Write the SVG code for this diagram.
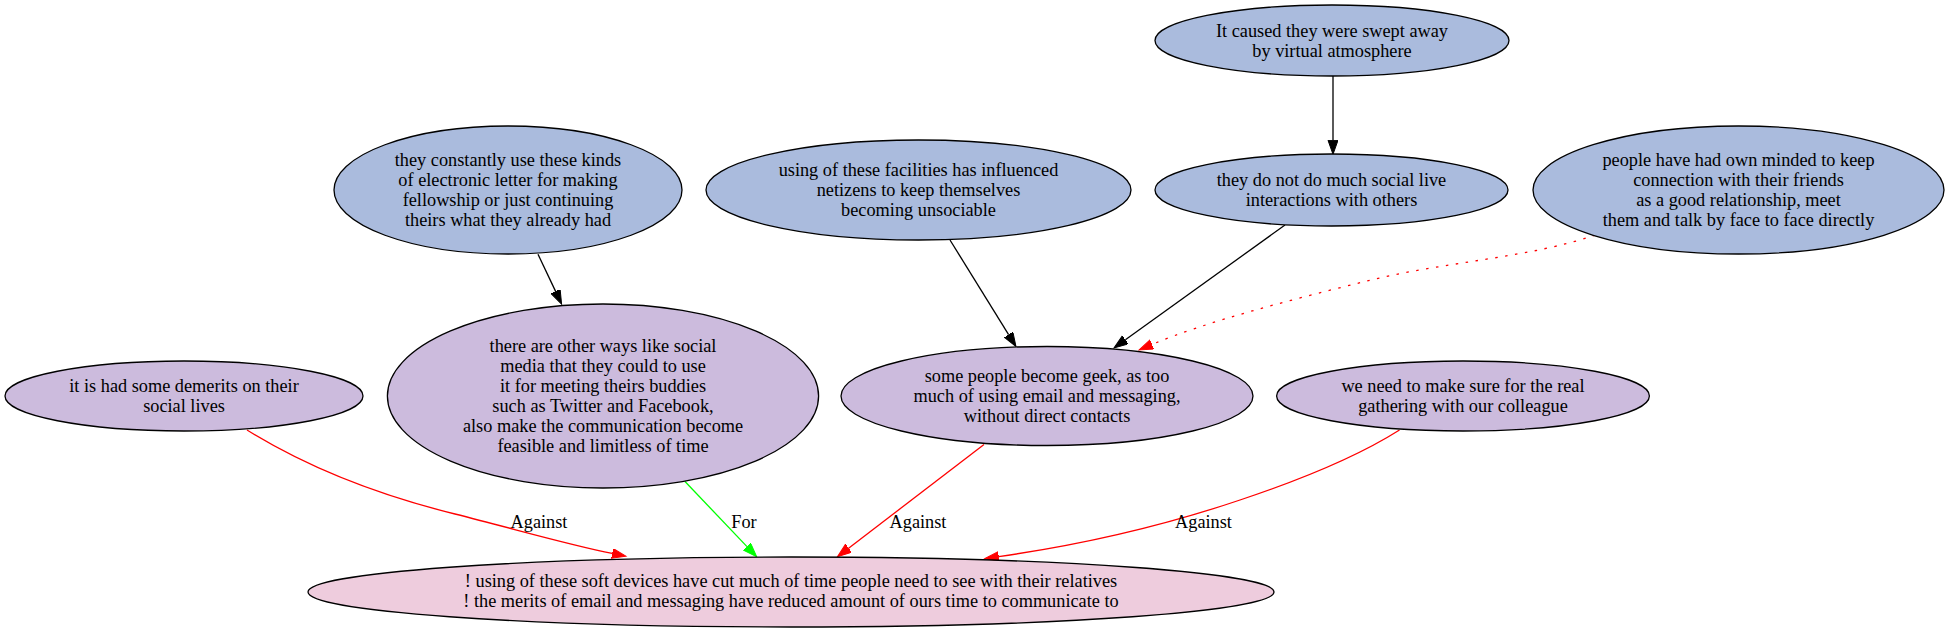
<svg xmlns="http://www.w3.org/2000/svg" width="1958" height="634" viewBox="0 0 1958 634">
<style>
  .n ellipse { stroke: #000; stroke-width: 1.3; }
  .blue { fill: #aabbdd; }
  .purple { fill: #ccbbdd; }
  .pink { fill: #eeccdd; }
  text { font-family: "Liberation Serif", "Times New Roman", serif; font-size: 18.3px; fill: #000; text-anchor: middle; }
  .e { fill: none; stroke-width: 1.3; }
  .k { stroke: #000; }
  .r { stroke: #ff0000; }
  .g { stroke: #00ff00; }
  .dot { stroke-dasharray: 2.5 7.5; }
</style>
<defs>
  <marker id="ak" markerUnits="userSpaceOnUse" markerWidth="16" markerHeight="12" refX="0" refY="5" orient="auto" viewBox="0 0 16 12">
    <path d="M0,0 L14,5 L0,10 z" fill="#000" stroke="#000" stroke-width="1"/>
  </marker>
  <marker id="ar" markerUnits="userSpaceOnUse" markerWidth="16" markerHeight="12" refX="0" refY="5" orient="auto" viewBox="0 0 16 12">
    <path d="M0,0 L14,5 L0,10 z" fill="#ff0000" stroke="#ff0000" stroke-width="1"/>
  </marker>
  <marker id="ag" markerUnits="userSpaceOnUse" markerWidth="16" markerHeight="12" refX="0" refY="5" orient="auto" viewBox="0 0 16 12">
    <path d="M0,0 L14,5 L0,10 z" fill="#00ff00" stroke="#00ff00" stroke-width="1"/>
  </marker>
</defs>
<rect width="1958" height="634" fill="#fff"/>

<g id="edges">
  <path class="e k" d="M538,254.3 L555.6,291.4" marker-end="url(#ak)"/>
  <path class="e k" d="M1333,76 L1333,140.3" marker-end="url(#ak)"/>
  <path class="e k" d="M950,240 L1008.6,334.6" marker-end="url(#ak)"/>
  <path class="e k" d="M1285,225 L1125.4,339.8" marker-end="url(#ak)"/>
  <path class="e r dot" d="M1595,235 C1530,258 1440,262 1363,282 C1290,300 1205,322 1152,344.5" marker-end="url(#ar)"/>
  <path class="e r" d="M247,430 C305,466 370,493 455,514 C522,531 570,545 612.2,553.4" marker-end="url(#ar)"/>
  <path class="e g" d="M685,481.5 L747,546.6" marker-end="url(#ag)"/>
  <path class="e r" d="M984,444.5 L848.6,548.2" marker-end="url(#ar)"/>
  <path class="e r" d="M1399.5,430 C1360,455 1300,480 1240,500 C1160,527 1080,545 998.7,556.6" marker-end="url(#ar)"/>
  <text x="539" y="528">Against</text>
  <text x="744" y="528">For</text>
  <text x="918" y="528">Against</text>
  <text x="1203.5" y="528">Against</text>
</g>

<g id="n1" class="n">
  <ellipse class="blue" cx="1332" cy="40.5" rx="177" ry="35.5"/>
  <text x="1332" y="36.5">It caused they were swept away</text>
  <text x="1332" y="56.5">by virtual atmosphere</text>
</g>
<g id="n2" class="n">
  <ellipse class="blue" cx="1331.5" cy="190" rx="176.5" ry="36"/>
  <text x="1331.5" y="186">they do not do much social live</text>
  <text x="1331.5" y="206">interactions with others</text>
</g>
<g id="n3" class="n">
  <ellipse class="blue" cx="918.5" cy="190" rx="212.5" ry="50"/>
  <text x="918.5" y="176">using of these facilities has influenced</text>
  <text x="918.5" y="196">netizens to keep themselves</text>
  <text x="918.5" y="216">becoming unsociable</text>
</g>
<g id="n4" class="n">
  <ellipse class="blue" cx="508" cy="190" rx="174" ry="64"/>
  <text x="508" y="166">they constantly use these kinds</text>
  <text x="508" y="186">of electronic letter for making</text>
  <text x="508" y="206">fellowship or just continuing</text>
  <text x="508" y="226">theirs what they already had</text>
</g>
<g id="n5" class="n">
  <ellipse class="blue" cx="1738.5" cy="190" rx="205.5" ry="64"/>
  <text x="1738.5" y="166">people have had own minded to keep</text>
  <text x="1738.5" y="186">connection with their friends</text>
  <text x="1738.5" y="206">as a good relationship, meet</text>
  <text x="1738.5" y="226">them and talk by face to face directly</text>
</g>
<g id="n6" class="n">
  <ellipse class="purple" cx="184" cy="396" rx="179" ry="35"/>
  <text x="184" y="392">it is had some demerits on their</text>
  <text x="184" y="412">social lives</text>
</g>
<g id="n7" class="n">
  <ellipse class="purple" cx="603" cy="396" rx="215.6" ry="92"/>
  <text x="603" y="352">there are other ways like social</text>
  <text x="603" y="372">media that they could to use</text>
  <text x="603" y="392">it for meeting theirs buddies</text>
  <text x="603" y="412">such as Twitter and Facebook,</text>
  <text x="603" y="432">also make the communication become</text>
  <text x="603" y="452">feasible and limitless of time</text>
</g>
<g id="n8" class="n">
  <ellipse class="purple" cx="1047" cy="396" rx="206" ry="49.5"/>
  <text x="1047" y="382">some people become geek, as too</text>
  <text x="1047" y="402">much of using email and messaging,</text>
  <text x="1047" y="422">without direct contacts</text>
</g>
<g id="n9" class="n">
  <ellipse class="purple" cx="1463" cy="396" rx="186.4" ry="35"/>
  <text x="1463" y="392">we need to make sure for the real</text>
  <text x="1463" y="412">gathering with our colleague</text>
</g>
<g id="n10" class="n">
  <ellipse class="pink" cx="791" cy="592" rx="483" ry="35"/>
  <text x="791" y="587">! using of these soft devices have cut much of time people need to see with their relatives</text>
  <text x="791" y="607">! the merits of email and messaging have reduced amount of ours time to communicate to</text>
</g>
</svg>
